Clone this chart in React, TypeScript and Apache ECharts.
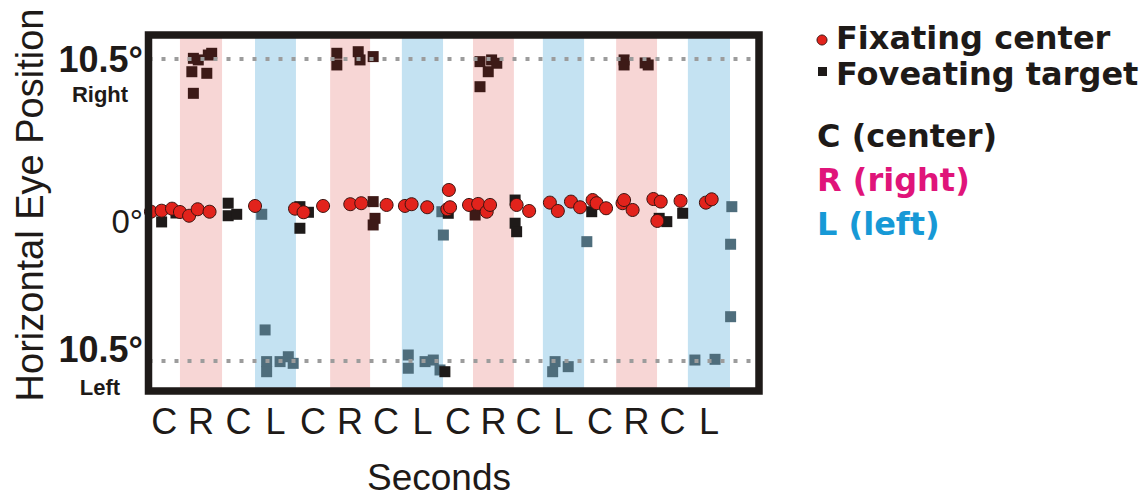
import React, { useEffect, useRef } from "react";
import * as echarts from "echarts";

// Phase boundaries (seconds) and labels
const phaseBounds = [0, 1.03, 2.41, 3.49, 4.83, 5.95, 7.26, 8.3, 9.65, 10.63, 11.97, 12.92, 14.27, 15.32, 16.66, 17.67, 19.05, 20];
const phaseLabels = ["C", "R", "C", "L", "C", "R", "C", "L", "C", "R", "C", "L", "C", "R", "C", "L", ""];

// Y tick labels
const yTickValues = [10.5, 0, -10.5];
const yTickLabels = ["10.5°", "0°", "10.5°"];
const ySubLabels = ["Right", "", "Left"];
const refLines = [10.5, -10.5];

// Fixating center (red circles)
const fixX = [0.08, 0.43, 0.77, 1.03, 1.33, 1.61, 2.0, 3.49, 4.8, 5.08, 5.72, 6.61, 6.97, 7.8, 8.4, 8.62, 9.13, 9.79, 9.84, 9.88, 10.5, 10.8, 11.08, 11.19, 12.06, 12.47, 13.15, 13.41, 13.84, 14.14, 14.55, 14.68, 14.99, 15.53, 15.58, 15.86, 16.54, 16.67, 16.78, 17.43, 18.26, 18.45];
const fixY = [-0.12, -0.05, 0.09, -0.14, -0.4, 0.05, -0.12, 0.28, 0.09, -0.16, 0.28, 0.4, 0.47, 0.35, 0.28, 0.4, 0.19, 0.05, 1.39, 0.19, 0.35, 0.42, -0.12, 0.35, 0.35, -0.07, 0.51, -0.07, 0.58, 0.19, 0.69, 0.47, 0.12, 0.47, 0.69, 0.0, 0.76, -0.76, 0.58, 0.63, 0.51, 0.74];

// Foveating target (squares); side: R / C / L
const targetX = [
  0.43, 0.9, 2.61, 2.61, 2.89, 3.71, 4.96, 4.96, 5.24, 7.36, 7.42, 7.36, 9.61, 9.82, 9.66, 10.7, 12.01, 12.01, 12.06, 14.52, 14.36, 16.73, 16.98, 17.5, 19.11, 19.07, 19.07,
  1.47, 1.63, 1.96, 2.07, 1.42, 1.91, 1.47,
  6.17, 6.17, 6.87, 6.93, 7.36,
  10.86, 11.24, 11.13, 10.86, 11.41,
  15.58, 15.58, 16.27, 16.37,
  3.82, 3.87, 3.87, 4.31, 4.58, 4.74,
  8.51, 8.51, 9.06, 9.33, 9.55, 9.71,
  13.32, 13.24, 13.75,
  17.9, 18.56,
];
const targetY = [
  -0.83, -0.21, 0.47, -0.4, -0.3, -0.3, 0.23, -1.27, -0.16, 0.58, -0.58, -1.04, -0.12, -0.23, -1.74, -0.35, 0.69, -0.92, -1.51, -0.12, -2.2, -0.58, -0.81, -0.23, 0.23, -2.38, -7.41,
  10.53, 10.42, 10.76, 10.88, 9.6, 9.49, 8.1,
  10.88, 10.07, 10.99, 10.42, 10.65,
  10.3, 10.42, 9.6, 8.56, 10.19,
  10.42, 10.07, 10.21, 10.07,
  -8.33, -10.53, -11.23, -10.53, -10.19, -10.65,
  -10.07, -10.99, -10.53, -10.42, -11.11, -11.23,
  -10.53, -11.23, -10.88,
  -10.42, -10.37,
];
const targetSide = [
  "C", "C", "C", "C", "C", "L", "C", "C", "C", "R", "R", "R", "L", "C", "L", "R", "C", "C", "C", "C", "L", "C", "C", "C", "L", "L", "L",
  "R", "R", "R", "R", "R", "R", "R",
  "R", "R", "R", "R", "R",
  "R", "R", "R", "R", "R",
  "R", "R", "R", "R",
  "L", "L", "L", "L", "L", "L",
  "L", "L", "L", "L", "L", "C",
  "L", "L", "L",
  "L", "L",
];

const sideColor: Record<string, string> = { R: "#3d1a17", C: "#1e1a19", L: "#4e6d7c" };
const bandColor: Record<string, string> = { R: "#f7d6d5", L: "#c4e2f2" };

const GRID = { left: 148.5, top: 35, width: 610.5, height: 356 };
const SANS = '"Liberation Sans", Arial, sans-serif';
const BOLD = '"DejaVu Sans", sans-serif';

export default function App() {
  const ref = useRef<HTMLDivElement>(null);
  useEffect(() => {
    if (!ref.current) return;
    const chart = echarts.init(ref.current, undefined, { renderer: "svg" });
    const bands: any[] = [];
    for (let i = 0; i < phaseLabels.length; i++) {
      const c = bandColor[phaseLabels[i]];
      if (c) bands.push([{ xAxis: phaseBounds[i], itemStyle: { color: c, opacity: 1 } }, { xAxis: phaseBounds[i + 1] }]);
    }
    chart.setOption({
      animation: false,
      backgroundColor: "#ffffff",
      grid: { left: GRID.left, top: GRID.top, width: GRID.width, height: GRID.height, show: false },
      xAxis: { type: "value", min: 0, max: 20, show: false },
      yAxis: { type: "value", min: -12.57, max: 12.15, show: false },
      series: [
        {
          type: "line", data: [], z: 1, silent: true,
          markArea: { silent: true, data: bands },
        },
        {
          name: "Foveating target", type: "scatter", z: 3, symbol: "rect", symbolSize: 11,
          itemStyle: { opacity: 1 },
          data: targetX.map((x, i) => ({ value: [x, targetY[i]], itemStyle: { color: sideColor[targetSide[i]], opacity: 1 } })),
        },
        {
          type: "line", data: [], z: 4, silent: true,
          markLine: {
            silent: true, symbol: "none", label: { show: false },
            lineStyle: { color: "#9c9c9c", width: 4, type: [4, 9], opacity: 1 },
            data: refLines.map((v) => ({ yAxis: v })),
          },
        },
        {
          name: "Fixating center", type: "scatter", z: 5, symbol: "circle", symbolSize: 13,
          itemStyle: { color: "#e2231c", borderColor: "#3a1410", borderWidth: 1, opacity: 1 },
          data: fixX.map((x, i) => [x, fixY[i]]),
        },
      ],
    });

    const px = (x: number, y: number) => chart.convertToPixel({ gridIndex: 0 }, [x, y]) as number[];
    const g: any[] = [];
    // frame
    g.push({ type: "rect", z: 100, shape: { x: GRID.left, y: GRID.top, width: GRID.width, height: GRID.height }, style: { fill: "none", stroke: "#1e1a18", lineWidth: 7.5 } });
    // y tick labels
    const yOff = [1, 12, -12];
    yTickValues.forEach((v, i) => {
      const p = px(0, v);
      g.push({ type: "text", z: 101, x: 143, y: p[1] + yOff[i], style: { text: yTickLabels[i], fontFamily: SANS, fontWeight: v === 0 ? "normal" : "bold", fontSize: v === 0 ? 33 : 36, fill: "#1e1a18", align: "right", verticalAlign: "middle" } });
      if (ySubLabels[i]) {
        g.push({ type: "text", z: 101, x: 100, y: p[1] + yOff[i] + (v > 0 ? 35 : 38), style: { text: ySubLabels[i], fontFamily: SANS, fontWeight: "bold", fontSize: 22, fill: "#1e1a18", align: "center", verticalAlign: "middle" } });
      }
    });
    // x tick labels
    phaseLabels.forEach((lab, i) => {
      if (!lab) return;
      const p = px((phaseBounds[i] + phaseBounds[i + 1]) / 2, -12.57);
      g.push({ type: "text", z: 101, x: p[0], y: 421, style: { text: lab, fontFamily: SANS, fontSize: 36, fill: "#1e1a18", align: "center", verticalAlign: "middle" } });
    });
    // axis titles
    g.push({ type: "text", z: 101, x: 439, y: 477, style: { text: "Seconds", fontFamily: SANS, fontSize: 37, fill: "#1e1a18", align: "center", verticalAlign: "middle" } });
    g.push({ type: "text", z: 101, x: 30, y: 205, rotation: Math.PI / 2, style: { text: "Horizontal Eye Position", fontFamily: SANS, fontSize: 38, fill: "#1e1a18", align: "center", verticalAlign: "middle" } });
    // legend
    g.push({ type: "circle", z: 101, shape: { cx: 822, cy: 40, r: 5 }, style: { fill: "#e2231c", stroke: "#3a1410", lineWidth: 1 } });
    g.push({ type: "text", z: 101, x: 836, y: 38, style: { text: "Fixating center", fontFamily: BOLD, fontWeight: "bold", fontSize: 32, fill: "#1e1a18", align: "left", verticalAlign: "middle" } });
    g.push({ type: "rect", z: 101, shape: { x: 818, y: 67, width: 9, height: 9 }, style: { fill: "#1e1a18" } });
    g.push({ type: "text", z: 101, x: 836, y: 74, style: { text: "Foveating target", fontFamily: BOLD, fontWeight: "bold", fontSize: 32, fill: "#1e1a18", align: "left", verticalAlign: "middle" } });
    g.push({ type: "text", z: 101, x: 817, y: 136, style: { text: "C (center)", fontFamily: BOLD, fontWeight: "bold", fontSize: 32, fill: "#1e1a18", align: "left", verticalAlign: "middle" } });
    g.push({ type: "text", z: 101, x: 817, y: 180, style: { text: "R (right)", fontFamily: BOLD, fontWeight: "bold", fontSize: 32, fill: "#e0147a", align: "left", verticalAlign: "middle" } });
    g.push({ type: "text", z: 101, x: 817, y: 224, style: { text: "L (left)", fontFamily: BOLD, fontWeight: "bold", fontSize: 32, fill: "#1799d6", align: "left", verticalAlign: "middle" } });
    chart.setOption({ graphic: { elements: g } });

    return () => chart.dispose();
  }, []);
  return <div ref={ref} style={{ position: "fixed", left: 0, top: 0, width: 1143, height: 497 }} />;
}
